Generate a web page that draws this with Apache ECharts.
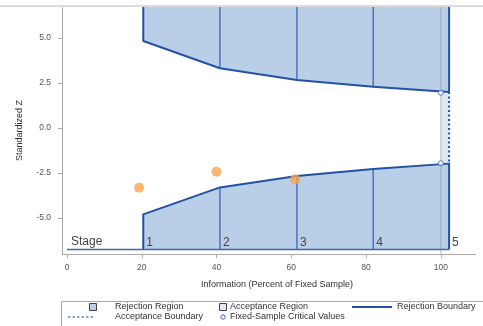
<!DOCTYPE html>
<html>
<head>
<meta charset="utf-8">
<script src="https://cdn.jsdelivr.net/npm/echarts@6/dist/echarts.min.js"></script>
<style>
html,body{margin:0;padding:0;background:#fff;}
#c{width:483px;height:326px;}
</style>
</head>
<body>
<div id="c"></div>
<script>
// ---- data ----
const stageInfo = [20.4, 40.9, 61.5, 81.9, 102.2];
const upperBound = [4.83, 3.32, 2.67, 2.29, 2.0];
const lowerBound = [-4.80, -3.30, -2.67, -2.28, -1.98];
const stageLabels = ['1', '2', '3', '4', '5'];
const stageBaseZ = -6.75;
const fixedInfo = 100;
const fixedCritical = [1.96, -1.96];
const obsInfo = [19.3, 40.0, 61.0];
const obsZ = [-3.32, -2.43, -2.85];
const xTicks = [0, 20, 40, 60, 80, 100];
const yTicks = [-5, -2.5, 0, 2.5, 5];

const X_MIN = -1.34, X_MAX = 109.4, Y_MIN = -7.0, Y_MAX = 6.72;
const FONT = 'Liberation Sans, Arial, sans-serif';
const FILL = '#b9cfe7';
const BLINE = '#2451a6';
const SLINE = '#3d64b4';

const chart = echarts.init(document.getElementById('c'), null, {renderer: 'canvas'});

function regionsRender(params, api) {
  const c = (x, y) => api.coord([x, y]);
  const n = stageInfo.length;
  const children = [];
  const up = [c(stageInfo[0], Y_MAX)];
  for (let i = 0; i < n; i++) up.push(c(stageInfo[i], upperBound[i]));
  up.push(c(stageInfo[n - 1], Y_MAX));
  children.push({type: 'polygon', shape: {points: up}, style: {fill: FILL, stroke: null}});
  const lo = [c(stageInfo[0], stageBaseZ)];
  for (let i = 0; i < n; i++) lo.push(c(stageInfo[i], lowerBound[i]));
  lo.push(c(stageInfo[n - 1], stageBaseZ));
  children.push({type: 'polygon', shape: {points: lo}, style: {fill: FILL, stroke: null}});
  const a1 = c(fixedInfo, upperBound[n - 1]);
  const a2 = c(stageInfo[n - 1], lowerBound[n - 1]);
  children.push({type: 'rect', shape: {x: a1[0], y: a1[1], width: a2[0] - a1[0], height: a2[1] - a1[1]}, style: {fill: '#dfe8f3'}});
  const r1 = c(fixedInfo, Y_MAX), r2 = c(fixedInfo, Y_MIN);
  children.push({type: 'line', shape: {x1: r1[0], y1: r1[1], x2: r2[0], y2: r2[1]},
    style: {stroke: 'rgba(140,140,140,0.55)', lineWidth: 1}});
  for (let i = 1; i < n - 1; i++) {
    const t = c(stageInfo[i], Y_MAX), u = c(stageInfo[i], upperBound[i]);
    const l = c(stageInfo[i], lowerBound[i]), b = c(stageInfo[i], stageBaseZ);
    children.push({type: 'line', shape: {x1: t[0], y1: t[1], x2: u[0], y2: u[1]}, style: {stroke: SLINE, lineWidth: 1.3}});
    children.push({type: 'line', shape: {x1: l[0], y1: l[1], x2: b[0], y2: b[1]}, style: {stroke: SLINE, lineWidth: 1.3}});
  }
  const b0 = c(0, stageBaseZ), b1 = c(stageInfo[n - 1], stageBaseZ);
  children.push({type: 'line', shape: {x1: b0[0], y1: b0[1], x2: b1[0], y2: b1[1]}, style: {stroke: SLINE, lineWidth: 1.5}});
  children.push({type: 'polyline', shape: {points: up}, style: {stroke: BLINE, lineWidth: 2, fill: null, lineJoin: 'round'}});
  children.push({type: 'polyline', shape: {points: lo}, style: {stroke: BLINE, lineWidth: 2, fill: null, lineJoin: 'round'}});
  const d1 = c(stageInfo[n - 1], upperBound[n - 1]), d2 = c(stageInfo[n - 1], lowerBound[n - 1]);
  children.push({type: 'line', shape: {x1: d1[0], y1: d1[1], x2: d2[0], y2: d2[1]}, style: {stroke: BLINE, lineWidth: 2, lineDash: [2, 2.5]}});
  const s0 = c(0, stageBaseZ);
  children.push({type: 'text', x: s0[0] + 4, y: s0[1] - 2, style: {text: 'Stage', fill: '#444', font: '12px ' + FONT, verticalAlign: 'bottom'}});
  for (let i = 0; i < n; i++) {
    const p = c(stageInfo[i], stageBaseZ);
    children.push({type: 'text', x: p[0] + 3, y: p[1] - 1, style: {text: stageLabels[i], fill: '#444', font: '12px ' + FONT, verticalAlign: 'bottom'}});
  }
  return {type: 'group', children: children};
}

const TXT = (x, y, t) => ({type: 'text', x: x, y: y, style: {text: t, font: '9px ' + FONT, fill: '#333', verticalAlign: 'middle'}});

const option = {
  animation: false,
  backgroundColor: '#fff',
  grid: {left: 62, right: 7, top: 7, bottom: 72, containLabel: false},
  xAxis: {
    type: 'value', min: X_MIN, max: X_MAX,
    name: 'Information (Percent of Fixed Sample)', nameLocation: 'middle', nameGap: 26,
    nameTextStyle: {fontFamily: FONT, fontSize: 9, color: '#333', padding: [0, 0, 0, 16]},
    axisLine: {show: true, onZero: false, lineStyle: {color: '#aaa', width: 1}},
    axisTick: {show: true, customValues: xTicks, length: 4, lineStyle: {color: '#aaa'}},
    axisLabel: {customValues: xTicks, fontFamily: FONT, fontSize: 8.5, color: '#555', margin: 9},
    splitLine: {show: false}
  },
  yAxis: {
    type: 'value', min: Y_MIN, max: Y_MAX,
    name: 'Standardized Z', nameLocation: 'middle', nameGap: 38, nameRotate: 90,
    nameTextStyle: {fontFamily: FONT, fontSize: 9, color: '#333'},
    axisLine: {show: true, onZero: false, lineStyle: {color: '#aaa', width: 1}},
    axisTick: {show: true, customValues: yTicks, length: 4, lineStyle: {color: '#aaa'}},
    axisLabel: {customValues: yTicks, fontFamily: FONT, fontSize: 8.5, color: '#555', margin: 11,
      formatter: v => v.toFixed(1)},
    splitLine: {show: false}
  },
  series: [
    {type: 'custom', renderItem: regionsRender, data: [0], clip: false, silent: true, z: 2},
    {type: 'scatter', data: fixedCritical.map(v => [fixedInfo, v]), symbol: 'circle', symbolSize: 5,
      itemStyle: {color: '#fff', borderColor: SLINE, borderWidth: 1}, z: 4},
    {type: 'scatter', data: obsInfo.map((x, i) => [x, obsZ[i]]), symbol: 'circle', symbolSize: 10,
      itemStyle: {color: '#f7a24f'}, z: 5}
  ],
  graphic: [
    {type: 'rect', shape: {x: 0, y: 5, width: 483, height: 2}, style: {fill: '#dcdcdc'}, z: 10},
    {type: 'rect', shape: {x: 61.5, y: 301.5, width: 440, height: 40}, style: {fill: null, stroke: '#aaa', lineWidth: 1}},
    {type: 'rect', shape: {x: 89.5, y: 303.5, width: 7, height: 7}, style: {fill: FILL, stroke: '#444', lineWidth: 1}},
    TXT(115, 307, 'Rejection Region'),
    {type: 'rect', shape: {x: 219.5, y: 303.5, width: 7, height: 7}, style: {fill: '#dfe8f3', stroke: '#444', lineWidth: 1}},
    TXT(230, 307, 'Acceptance Region'),
    {type: 'line', shape: {x1: 352, y1: 307, x2: 392, y2: 307}, style: {stroke: BLINE, lineWidth: 2}},
    TXT(397, 307, 'Rejection Boundary'),
    {type: 'line', shape: {x1: 68, y1: 317, x2: 95, y2: 317}, style: {stroke: BLINE, lineWidth: 1.2, lineDash: [2.5, 2]}},
    TXT(115, 317, 'Acceptance Boundary'),
    {type: 'circle', shape: {cx: 223, cy: 317, r: 2.2}, style: {fill: '#fff', stroke: SLINE, lineWidth: 1}},
    TXT(230, 317, 'Fixed-Sample Critical Values')
  ]
};
chart.setOption(option);
</script>
</body>
</html>
